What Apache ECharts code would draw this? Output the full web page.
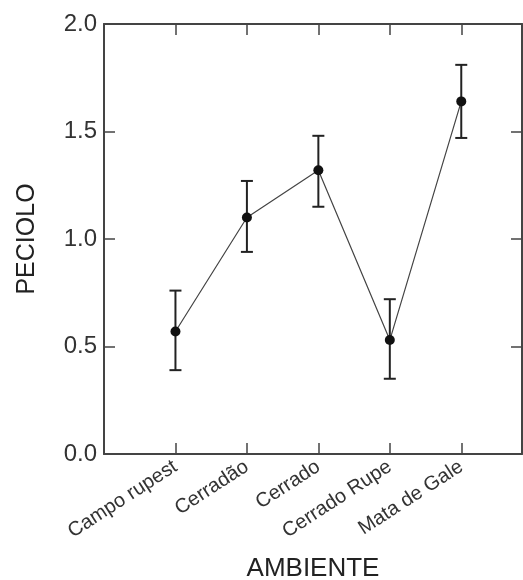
<!DOCTYPE html>
<html lang="en">
<head>
    <meta charset="UTF-8">
    <title>PECIOLO</title>
    <script src="https://cdn.jsdelivr.net/npm/echarts@6/dist/echarts.min.js"></script>
</head>
<body style="margin: 0">
    <div id="container" style="width: 523px; height: 580px"></div>
    <script type="text/javascript">
        var categories = ['Campo rupest', 'Cerradão', 'Cerrado', 'Cerrado Rupe', 'Mata de Gale'];
        var means = [0.57, 1.10, 1.32, 0.53, 1.64];
        var upper = [0.76, 1.27, 1.48, 0.72, 1.81];
        var lower = [0.39, 0.94, 1.15, 0.35, 1.47];
        var yTicks = [0, 0.5, 1.0, 1.5, 2.0];

        var lineData = [];
        var errData = [];
        for (let i = 0; i < categories.length; i++) {
            lineData.push([i + 1, means[i]]);
            errData.push([i + 1, lower[i], upper[i]]);
        }

        var dom = document.getElementById('container');
        var myChart = echarts.init(dom, null, { renderer: 'canvas' });

        var axisColor = '#444';
        var font = 'Liberation Sans, Arial, sans-serif';

        function xLabel(v) {
            var i = Math.round(v) - 1;
            if (Math.abs(v - Math.round(v)) > 1e-6 || i < 0 || i >= categories.length) return '';
            return categories[i];
        }

        var lineOpt = { onZero: false, lineStyle: { color: axisColor, width: 2 } };
        var tickOpt = { inside: true, length: 11, lineStyle: { color: axisColor, width: 1.5 } };

        var option = {
            animation: false,
            grid: { left: 104, top: 24, right: 1, bottom: 126, outerBoundsMode: 'none', containLabel: false },
            xAxis: [
                {
                    type: 'value', min: 0, max: 5.85, interval: 1,
                    position: 'bottom',
                    name: 'AMBIENTE', nameLocation: 'middle', nameGap: 102,
                    nameTextStyle: { fontFamily: font, fontSize: 26, color: '#222' },
                    axisLine: lineOpt,
                    axisTick: tickOpt,
                    axisLabel: {
                        rotate: 33, margin: 11, fontFamily: font, fontSize: 20, color: '#333',
                        formatter: xLabel, showMinLabel: false, showMaxLabel: false
                    },
                    splitLine: { show: false }
                },
                {
                    type: 'value', min: 0, max: 5.85, interval: 1,
                    position: 'top',
                    axisLine: lineOpt,
                    axisTick: tickOpt,
                    axisLabel: { show: false },
                    splitLine: { show: false }
                }
            ],
            yAxis: [
                {
                    type: 'value', min: yTicks[0], max: yTicks[yTicks.length - 1], interval: 0.5,
                    position: 'left',
                    name: 'PECIOLO', nameLocation: 'middle', nameGap: 64,
                    nameTextStyle: { fontFamily: font, fontSize: 25, color: '#222' },
                    axisLine: lineOpt,
                    axisTick: tickOpt,
                    axisLabel: {
                        margin: 7, fontFamily: font, fontSize: 24, color: '#333',
                        formatter: function (v) { return v.toFixed(1); }
                    },
                    splitLine: { show: false }
                },
                {
                    type: 'value', min: yTicks[0], max: yTicks[yTicks.length - 1], interval: 0.5,
                    position: 'right',
                    axisLine: lineOpt,
                    axisTick: tickOpt,
                    axisLabel: { show: false },
                    splitLine: { show: false }
                }
            ],
            series: [
                {
                    type: 'line',
                    data: lineData,
                    symbol: 'circle',
                    symbolSize: 10,
                    itemStyle: { color: '#111' },
                    lineStyle: { color: '#444', width: 1.2 },
                    z: 3
                },
                {
                    type: 'custom',
                    data: errData,
                    renderItem: function (params, api) {
                        var x = api.value(0);
                        var lo = api.coord([x, api.value(1)]);
                        var hi = api.coord([x, api.value(2)]);
                        var w = 6;
                        var style = { stroke: '#222', lineWidth: 2 };
                        return {
                            type: 'group',
                            children: [
                                { type: 'line', shape: { x1: lo[0], y1: lo[1], x2: hi[0], y2: hi[1] }, style: style },
                                { type: 'line', shape: { x1: lo[0] - w, y1: lo[1], x2: lo[0] + w, y2: lo[1] }, style: style },
                                { type: 'line', shape: { x1: hi[0] - w, y1: hi[1], x2: hi[0] + w, y2: hi[1] }, style: style }
                            ]
                        };
                    },
                    z: 2
                }
            ]
        };

        myChart.setOption(option);
        window.addEventListener('resize', myChart.resize);
    </script>
</body>
</html>
